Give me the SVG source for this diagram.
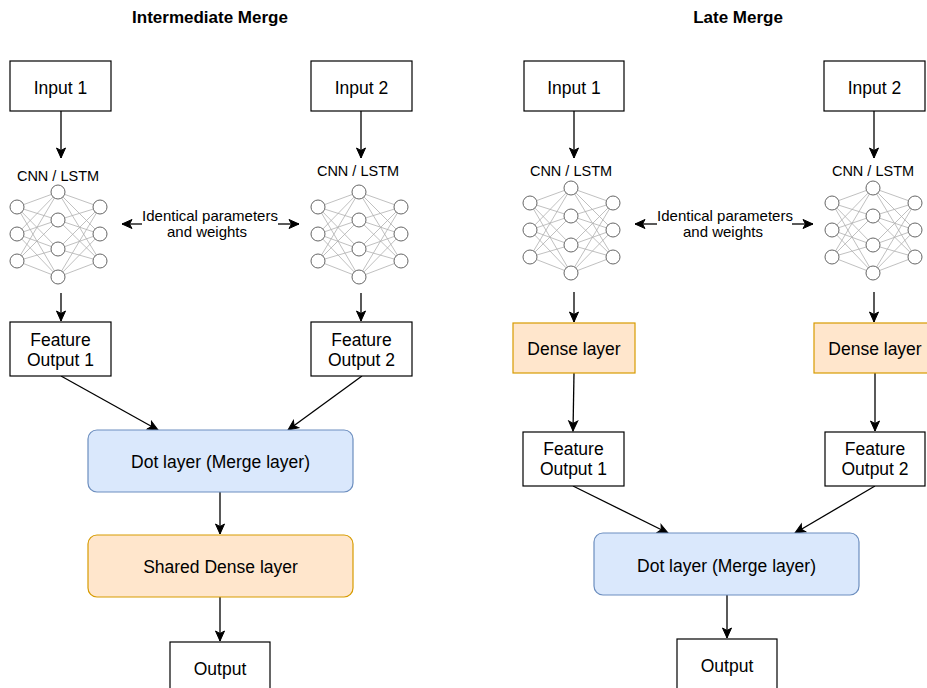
<svg xmlns="http://www.w3.org/2000/svg" xmlns:xlink="http://www.w3.org/1999/xlink" width="927" height="688" viewBox="0 0 927 688">
<style>
text{font-family:"Liberation Sans",Arial,Helvetica,sans-serif;fill:#000;text-anchor:middle}
.t{font-size:17.5px}
.s{font-size:15px}
.n{font-size:14.5px}
.h{font-size:17px;font-weight:bold}
.box{fill:#fff;stroke:#000;stroke-width:1.2}
.blue{fill:#dae8fc;stroke:#6c8ebf;stroke-width:1.2}
.orange{fill:#ffe6cc;stroke:#d79b00;stroke-width:1.2}
.c{fill:none;stroke:#000;stroke-width:1.3}
.nl{stroke:#b0b0b0;stroke-width:0.8}
.nc{fill:#fff;stroke:#666;stroke-width:1}
</style>
<defs>
<marker id="arr" markerUnits="userSpaceOnUse" markerWidth="12" markerHeight="12" viewBox="0 0 12 12" refX="11" refY="6" orient="auto">
<path d="M1,1.5 L11,6 L1,10.5 L3.5,6 Z" fill="#000" stroke="#000" stroke-width="1"/>
</marker>
<g id="net">
<g class="nl">
<line x1="0" y1="15" x2="41" y2="0"/><line x1="0" y1="15" x2="41" y2="28"/><line x1="0" y1="15" x2="41" y2="57"/><line x1="0" y1="15" x2="41" y2="85"/>
<line x1="0" y1="42" x2="41" y2="0"/><line x1="0" y1="42" x2="41" y2="28"/><line x1="0" y1="42" x2="41" y2="57"/><line x1="0" y1="42" x2="41" y2="85"/>
<line x1="0" y1="69" x2="41" y2="0"/><line x1="0" y1="69" x2="41" y2="28"/><line x1="0" y1="69" x2="41" y2="57"/><line x1="0" y1="69" x2="41" y2="85"/>
<line x1="83" y1="15" x2="41" y2="0"/><line x1="83" y1="15" x2="41" y2="28"/><line x1="83" y1="15" x2="41" y2="57"/><line x1="83" y1="15" x2="41" y2="85"/>
<line x1="83" y1="42" x2="41" y2="0"/><line x1="83" y1="42" x2="41" y2="28"/><line x1="83" y1="42" x2="41" y2="57"/><line x1="83" y1="42" x2="41" y2="85"/>
<line x1="83" y1="69" x2="41" y2="0"/><line x1="83" y1="69" x2="41" y2="28"/><line x1="83" y1="69" x2="41" y2="57"/><line x1="83" y1="69" x2="41" y2="85"/>
</g>
<g class="nc">
<circle cx="0" cy="15" r="7"/><circle cx="0" cy="42" r="7"/><circle cx="0" cy="69" r="7"/>
<circle cx="41" cy="0" r="7"/><circle cx="41" cy="28" r="7"/><circle cx="41" cy="57" r="7"/><circle cx="41" cy="85" r="7"/>
<circle cx="83" cy="15" r="7"/><circle cx="83" cy="42" r="7"/><circle cx="83" cy="69" r="7"/>
</g>
</g>
</defs>

<g id="titles">
<text class="h" x="210" y="23">Intermediate Merge</text>
<text class="h" x="738" y="23">Late Merge</text>
</g>

<g id="connectors">
<line class="c" x1="61" y1="111" x2="61" y2="158" marker-end="url(#arr)"/>
<line class="c" x1="361" y1="111" x2="361" y2="158" marker-end="url(#arr)"/>
<line class="c" x1="61" y1="293" x2="61" y2="321" marker-end="url(#arr)"/>
<line class="c" x1="361" y1="293" x2="361" y2="321" marker-end="url(#arr)"/>
<line class="c" x1="61" y1="376" x2="158" y2="430" marker-end="url(#arr)"/>
<line class="c" x1="362" y1="376" x2="288" y2="430" marker-end="url(#arr)"/>
<line class="c" x1="220" y1="492" x2="220" y2="534" marker-end="url(#arr)"/>
<line class="c" x1="220" y1="597" x2="220" y2="641" marker-end="url(#arr)"/>
<line class="c" x1="142" y1="224" x2="122" y2="224" marker-end="url(#arr)"/>
<line class="c" x1="278" y1="224" x2="299" y2="224" marker-end="url(#arr)"/>

<line class="c" x1="574" y1="111" x2="574" y2="158" marker-end="url(#arr)"/>
<line class="c" x1="874" y1="111" x2="874" y2="158" marker-end="url(#arr)"/>
<line class="c" x1="574" y1="292" x2="574" y2="322" marker-end="url(#arr)"/>
<line class="c" x1="874" y1="292" x2="874" y2="322" marker-end="url(#arr)"/>
<line class="c" x1="574" y1="373" x2="573" y2="431" marker-end="url(#arr)"/>
<line class="c" x1="875" y1="373" x2="875" y2="431" marker-end="url(#arr)"/>
<line class="c" x1="573" y1="486" x2="668" y2="533" marker-end="url(#arr)"/>
<line class="c" x1="875" y1="486" x2="795" y2="533" marker-end="url(#arr)"/>
<line class="c" x1="727" y1="595" x2="727" y2="638" marker-end="url(#arr)"/>
<line class="c" x1="657" y1="224" x2="635" y2="224" marker-end="url(#arr)"/>
<line class="c" x1="792" y1="224" x2="813" y2="224" marker-end="url(#arr)"/>
</g>

<g id="im-input1"><rect class="box" x="10" y="61" width="101" height="50"/><text class="t" x="60.5" y="93.5">Input 1</text></g>
<g id="im-input2"><rect class="box" x="311" y="61" width="101" height="50"/><text class="t" x="361.5" y="93.5">Input 2</text></g>
<g id="im-net1"><text class="n" x="58" y="181">CNN / LSTM</text><use xlink:href="#net" transform="translate(17,192)"/></g>
<g id="im-net2"><text class="n" x="358" y="176">CNN / LSTM</text><use xlink:href="#net" transform="translate(318,192)"/></g>
<g id="im-identical"><text class="s" x="210" y="221">Identical parameters</text><text class="s" x="207" y="237">and weights</text></g>
<g id="im-fo1"><rect class="box" x="10" y="322" width="101" height="54"/><text class="t" x="60.5" y="346">Feature</text><text class="t" x="60.5" y="366">Output 1</text></g>
<g id="im-fo2"><rect class="box" x="311" y="322" width="101" height="54"/><text class="t" x="361.5" y="346">Feature</text><text class="t" x="361.5" y="366">Output 2</text></g>
<g id="im-dot"><rect class="blue" x="88" y="430" width="265" height="62" rx="9"/><text class="t" x="220.5" y="468">Dot layer (Merge layer)</text></g>
<g id="im-dense"><rect class="orange" x="88" y="535" width="265" height="62" rx="9"/><text class="t" x="220.5" y="573">Shared Dense layer</text></g>
<g id="im-output"><rect class="box" x="170" y="642" width="100" height="60"/><text class="t" x="220" y="675">Output</text></g>

<g id="lm-input1"><rect class="box" x="524" y="61" width="100" height="50"/><text class="t" x="574" y="93.5">Input 1</text></g>
<g id="lm-input2"><rect class="box" x="824" y="61" width="101" height="50"/><text class="t" x="874.5" y="93.5">Input 2</text></g>
<g id="lm-net1"><text class="n" x="571" y="176">CNN / LSTM</text><use xlink:href="#net" transform="translate(530,188)"/></g>
<g id="lm-net2"><text class="n" x="873" y="176">CNN / LSTM</text><use xlink:href="#net" transform="translate(832,188)"/></g>
<g id="lm-identical"><text class="s" x="725" y="221">Identical parameters</text><text class="s" x="723" y="237">and weights</text></g>
<g id="lm-dense1"><rect class="orange" x="513" y="323" width="122" height="50"/><text class="t" x="574" y="355">Dense layer</text></g>
<g id="lm-dense2"><rect class="orange" x="814" y="323" width="122" height="50"/><text class="t" x="875" y="355">Dense layer</text></g>
<g id="lm-fo1"><rect class="box" x="523" y="432" width="101" height="54"/><text class="t" x="573.5" y="455">Feature</text><text class="t" x="573.5" y="475">Output 1</text></g>
<g id="lm-fo2"><rect class="box" x="825" y="432" width="100" height="54"/><text class="t" x="875" y="455">Feature</text><text class="t" x="875" y="475">Output 2</text></g>
<g id="lm-dot"><rect class="blue" x="594" y="533" width="265" height="62" rx="9"/><text class="t" x="726.5" y="572">Dot layer (Merge layer)</text></g>
<g id="lm-output"><rect class="box" x="677" y="639" width="100" height="60"/><text class="t" x="727" y="672">Output</text></g>
</svg>
